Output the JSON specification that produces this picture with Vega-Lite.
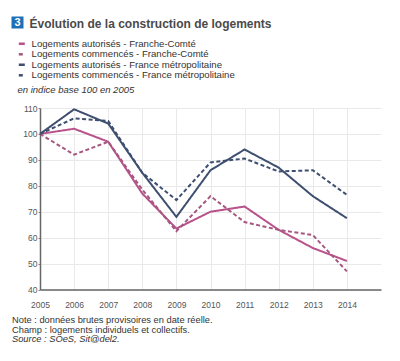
{
  "$schema": "https://vega.github.io/schema/vega-lite/v6.json",
  "width": 341,
  "height": 181.5,
  "autosize": "none",
  "padding": {"left": 40, "top": 108, "right": 19, "bottom": 71.5},
  "background": "white",
  "config": {
    "font": "Liberation Sans",
    "view": {"stroke": null}
  },
  "title": {
    "text": ["Note : données brutes provisoires en date réelle.", "Champ : logements individuels et collectifs."],
    "subtitle": "Source : SOeS, Sit@del2.",
    "orient": "bottom",
    "anchor": "start",
    "frame": "group",
    "dx": -28,
    "offset": 7,
    "fontSize": 9.3,
    "fontWeight": "normal",
    "color": "#333",
    "lineHeight": 10,
    "subtitleFontSize": 9.3,
    "subtitleFontStyle": "italic",
    "subtitleColor": "#333",
    "subtitleLineHeight": 10,
    "subtitlePadding": 0
  },
  "layer": [
    {
      "data": {
        "values": [
          {"year": 2005, "serie": "Logements autorisés - Franche-Comté", "value": 100},
          {"year": 2006, "serie": "Logements autorisés - Franche-Comté", "value": 102},
          {"year": 2007, "serie": "Logements autorisés - Franche-Comté", "value": 97},
          {"year": 2008, "serie": "Logements autorisés - Franche-Comté", "value": 77},
          {"year": 2009, "serie": "Logements autorisés - Franche-Comté", "value": 63.5},
          {"year": 2010, "serie": "Logements autorisés - Franche-Comté", "value": 70},
          {"year": 2011, "serie": "Logements autorisés - Franche-Comté", "value": 72},
          {"year": 2012, "serie": "Logements autorisés - Franche-Comté", "value": 63},
          {"year": 2013, "serie": "Logements autorisés - Franche-Comté", "value": 56},
          {"year": 2014, "serie": "Logements autorisés - Franche-Comté", "value": 51},
          {"year": 2005, "serie": "Logements commencés - Franche-Comté", "value": 100},
          {"year": 2006, "serie": "Logements commencés - Franche-Comté", "value": 92},
          {"year": 2007, "serie": "Logements commencés - Franche-Comté", "value": 97},
          {"year": 2008, "serie": "Logements commencés - Franche-Comté", "value": 78.5},
          {"year": 2009, "serie": "Logements commencés - Franche-Comté", "value": 62.5},
          {"year": 2010, "serie": "Logements commencés - Franche-Comté", "value": 76},
          {"year": 2011, "serie": "Logements commencés - Franche-Comté", "value": 66},
          {"year": 2012, "serie": "Logements commencés - Franche-Comté", "value": 63},
          {"year": 2013, "serie": "Logements commencés - Franche-Comté", "value": 61},
          {"year": 2014, "serie": "Logements commencés - Franche-Comté", "value": 47},
          {"year": 2005, "serie": "Logements autorisés - France métropolitaine", "value": 100},
          {"year": 2006, "serie": "Logements autorisés - France métropolitaine", "value": 109.5},
          {"year": 2007, "serie": "Logements autorisés - France métropolitaine", "value": 104},
          {"year": 2008, "serie": "Logements autorisés - France métropolitaine", "value": 85},
          {"year": 2009, "serie": "Logements autorisés - France métropolitaine", "value": 68},
          {"year": 2010, "serie": "Logements autorisés - France métropolitaine", "value": 86},
          {"year": 2011, "serie": "Logements autorisés - France métropolitaine", "value": 94},
          {"year": 2012, "serie": "Logements autorisés - France métropolitaine", "value": 87},
          {"year": 2013, "serie": "Logements autorisés - France métropolitaine", "value": 76},
          {"year": 2014, "serie": "Logements autorisés - France métropolitaine", "value": 67.5},
          {"year": 2005, "serie": "Logements commencés - France métropolitaine", "value": 100},
          {"year": 2006, "serie": "Logements commencés - France métropolitaine", "value": 106},
          {"year": 2007, "serie": "Logements commencés - France métropolitaine", "value": 105},
          {"year": 2008, "serie": "Logements commencés - France métropolitaine", "value": 85},
          {"year": 2009, "serie": "Logements commencés - France métropolitaine", "value": 74.5},
          {"year": 2010, "serie": "Logements commencés - France métropolitaine", "value": 89},
          {"year": 2011, "serie": "Logements commencés - France métropolitaine", "value": 90.5},
          {"year": 2012, "serie": "Logements commencés - France métropolitaine", "value": 85.5},
          {"year": 2013, "serie": "Logements commencés - France métropolitaine", "value": 86},
          {"year": 2014, "serie": "Logements commencés - France métropolitaine", "value": 76.5}
        ]
      },
      "mark": {"type": "line", "strokeWidth": 2},
      "encoding": {
        "x": {
          "field": "year", "type": "quantitative",
          "scale": {"domain": [2005, 2015], "nice": false, "zero": false},
          "axis": {
            "values": [2005, 2006, 2007, 2008, 2009, 2010, 2011, 2012, 2013, 2014],
            "format": "d", "title": null,
            "grid": true, "gridColor": "#e9e9e9", "gridWidth": 1,
            "domainColor": "#666", "domainWidth": 1.5,
            "ticks": false, "labelPadding": 11,
            "labelFontSize": 8.5, "labelColor": "#555",
            "labelFlush": false
          }
        },
        "y": {
          "field": "value", "type": "quantitative",
          "scale": {"domain": [40, 110], "nice": false, "zero": false},
          "axis": {
            "values": [40, 50, 60, 70, 80, 90, 100, 110],
            "grid": true, "gridColor": "#e9e9e9", "gridWidth": 1,
            "domainColor": "#666", "domainWidth": 1.5,
            "ticks": true, "tickSize": 2, "tickColor": "#888",
            "labelPadding": 1, "labelFontSize": 8.5, "labelColor": "#555",
            "title": "en indice base 100 en 2005",
            "titleAngle": 0, "titleAlign": "left", "titleBaseline": "middle",
            "titleX": -23, "titleY": -19,
            "titleFontSize": 9.5, "titleFontStyle": "italic", "titleFontWeight": "normal",
            "titleColor": "#333"
          }
        },
        "color": {
          "field": "serie", "type": "nominal",
          "scale": {
            "domain": ["Logements autorisés - Franche-Comté", "Logements commencés - Franche-Comté", "Logements autorisés - France métropolitaine", "Logements commencés - France métropolitaine"],
            "range": ["#b8528a", "#a4577f", "#3e4f70", "#3e4f70"]
          },
          "legend": {
            "orient": "none", "legendX": -23, "legendY": -69,
            "title": null, "padding": 0, "rowPadding": -0.5,
            "symbolType": "stroke", "symbolSize": 36, "symbolStrokeWidth": 2.5,
            "labelFontSize": 9.6, "labelColor": "#333", "labelOffset": 5, "labelLimit": 0
          }
        },
        "strokeDash": {
          "field": "serie", "type": "nominal",
          "scale": {
            "domain": ["Logements autorisés - Franche-Comté", "Logements commencés - Franche-Comté", "Logements autorisés - France métropolitaine", "Logements commencés - France métropolitaine"],
            "range": [[1, 0], [4, 2.5], [1, 0], [4, 2.5]]
          }
        }
      }
    },
    {
      "data": {"values": []},
      "mark": {"type": "point", "filled": true, "shape": "square"},
      "encoding": {
        "x": {
          "field": "bx", "type": "quantitative",
          "scale": {"domain": [0, 1]},
          "axis": {
            "orient": "top", "labels": false, "ticks": false, "domain": false, "grid": false,
            "title": "Évolution de la construction de logements",
            "titleAngle": 0, "titleAlign": "left", "titleBaseline": "alphabetic",
            "titleX": -11, "titleY": -81,
            "titleFontSize": 12, "titleFontWeight": "bold", "titleColor": "#4a4a4a"
          }
        },
        "fill": {
          "field": "badge", "type": "nominal",
          "scale": {"domain": ["3"], "range": ["#1d6fb8"]},
          "legend": {
            "orient": "none", "legendX": -28.5, "legendY": -91.5,
            "title": null, "padding": 0,
            "symbolType": "square", "symbolSize": 144, "symbolStrokeWidth": 0, "symbolOpacity": 1,
            "labelFontSize": 11, "labelFontWeight": "bold", "labelColor": "white", "labelOffset": -9
          }
        }
      }
    }
  ],
  "resolve": {"scale": {"x": "independent"}, "axis": {"x": "independent"}}
}
